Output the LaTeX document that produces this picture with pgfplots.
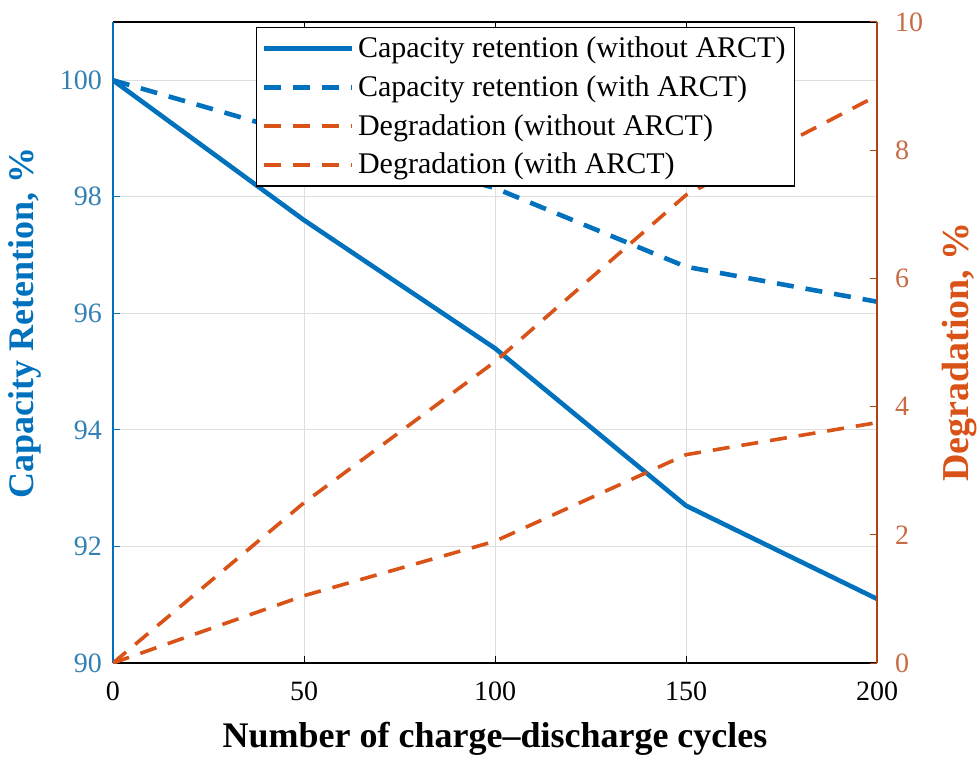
\documentclass[border=0pt]{standalone}
\usepackage{fontspec}
\setmainfont{Liberation Serif}
\usepackage{pgfplots}
\usepackage{pgfplotstable}
\pgfplotsset{compat=1.18}

\definecolor{mblue}{RGB}{0,114,189}
\definecolor{morange}{RGB}{217,83,25}

% cycles, capacity retention (%), degradation (%)
\pgfplotstableread{
cycles capNo  capWith degNo degWith
0      100.0  100.00  0.00  0.00
50     97.6   99.05   2.50  1.05
100    95.4   98.15   4.70  1.90
150    92.7   96.80   7.30  3.25
200    91.1   96.20   8.85  3.75
}\cycledata

\newcommand{\labelfont}{\bfseries\fontsize{18}{21}\selectfont}

\pgfplotsset{
  common/.style={
    scale only axis, width=382pt, height=320.5pt,
    xmin=0, xmax=200,
    tick align=inside,
    major tick length=3.5pt,
    /pgf/number format/assume math mode=true,
    ticklabel style={font=\fontsize{14}{16}\selectfont},
  },
  dashline/.style={line width=1.8pt, dash pattern=on 8.5pt off 6pt},
}

\begin{document}
\begin{tikzpicture}
\begin{axis}[common, name=ax1,
  ymin=90, ymax=101,
  xtick={0,50,...,200}, ytick={90,92,...,100},
  axis x line=box, axis y line*=left,
  x axis line style={-, black, line width=0.6pt},
  y axis line style={-, mblue, line width=0.6pt},
  x tick style={black, line width=0.5pt},
  y tick style={mblue, line width=0.5pt},
  grid=major, grid style={black!13, line width=0.5pt},
  xticklabel style={anchor=base, yshift=-18.5pt},
  yticklabel style={mblue!85!black!80, xshift=-2pt},
  xlabel={Number of charge--discharge cycles},
  xlabel style={font=\labelfont, at={(axis description cs:0.5,0)}, anchor=base, yshift=-42pt},
  ylabel={Capacity Retention, \%},
  ylabel style={font=\labelfont, mblue, at={(axis description cs:0,0.53)}, anchor=center, yshift=44pt},
]
\addplot[mblue, line width=2.3pt] table[x=cycles, y=capNo] {\cycledata};
\addplot[mblue, dashline, line width=2.3pt] table[x=cycles, y=capWith] {\cycledata};
\end{axis}

\begin{axis}[common,
  ymin=0, ymax=10, ytick={0,2,...,10},
  axis x line=none, axis y line*=right,
  y axis line style={-, morange!80!black, line width=0.6pt},
  y tick style={morange!80!black, line width=0.5pt},
  yticklabel style={morange!85!black!80, xshift=5.5pt},
  ylabel={Degradation, \%},
  ylabel style={font=\bfseries\fontsize{19}{22}\selectfont, morange,
    at={(axis description cs:1,0.485)}, anchor=center, yshift=-41.5pt},
  legend style={at={(0.187,0.992)}, anchor=north west, draw=black, line width=0.6pt,
    fill=white, font=\fontsize{15}{18}\selectfont, row sep=3.5pt,
    inner sep=2.5pt},
  legend cell align=left,
  legend image code/.code={\draw[#1] (0pt,0pt) -- (44pt,0pt);},
]
\addlegendimage{mblue, line width=2.3pt}
\addlegendentry{Capacity retention (without ARCT)}
\addlegendimage{mblue, dashline, line width=2.3pt}
\addlegendentry{Capacity retention (with ARCT)}
\addplot[morange, dashline] table[x=cycles, y=degNo] {\cycledata};
\addlegendentry{Degradation (without ARCT)}
\addplot[morange, dashline] table[x=cycles, y=degWith] {\cycledata};
\addlegendentry{Degradation (with ARCT)}
\end{axis}

\pgfresetboundingbox
\path ([xshift=-56.5pt, yshift=-48.5pt]ax1.south west) rectangle ([xshift=51pt, yshift=11pt]ax1.north east);
\end{tikzpicture}
\end{document}
